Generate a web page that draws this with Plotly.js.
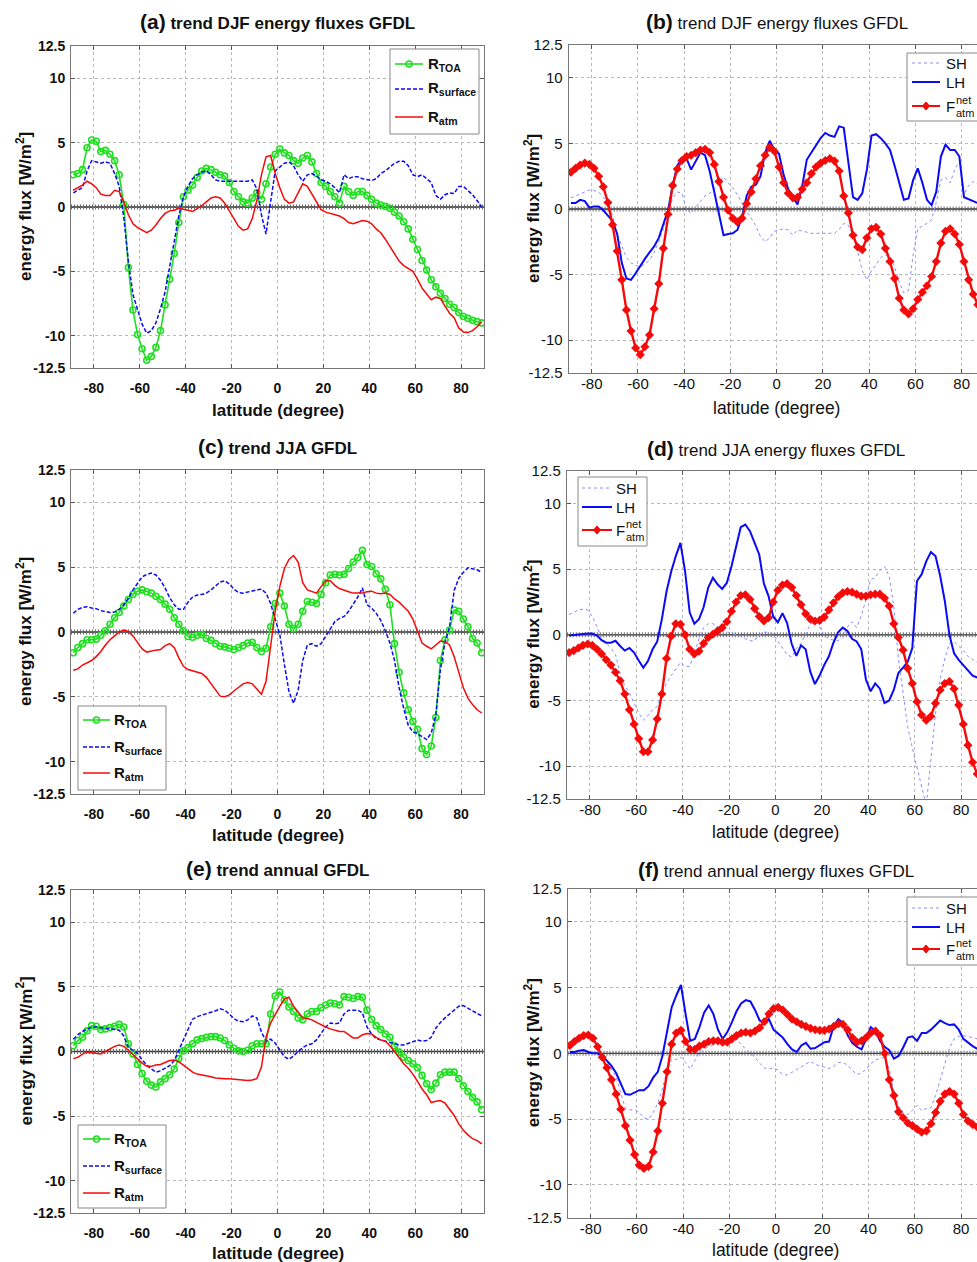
<!DOCTYPE html>
<html><head><meta charset="utf-8">
<script src="https://cdn.plot.ly/plotly-3.0.1.min.js"></script>
<style>html,body{margin:0;padding:0;background:#fff;overflow:hidden;width:977px;height:1262px}#chart{width:1000px;height:1262px}</style>
</head><body><div id="chart"></div>
<script>
const lat = [-89,-87,-85,-83,-81,-79,-77,-75,-73,-71,-69,-67,-65,-63,-61,-59,-57,-55,-53,-51,-49,-47,-45,-43,-41,-39,-37,-35,-33,-31,-29,-27,-25,-23,-21,-19,-17,-15,-13,-11,-9,-7,-5,-3,-1,1,3,5,7,9,11,13,15,17,19,21,23,25,27,29,31,33,35,37,39,41,43,45,47,49,51,53,55,57,59,61,63,65,67,69,71,73,75,77,79,81,83,85,87,89];
const xTicks = [-80,-60,-40,-20,0,20,40,60,80];
const xTickText = ['-80','-60','-40','-20','0','20','40','60','80'];
const yTicks = [-12.5,-10,-5,0,5,10,12.5];
const yTickText = ['-12.5','-10','-5','0','5','10','12.5'];

// (a) DJF radiative
const a_toa = [2.5,2.6,2.9,4.6,5.2,5.1,4.3,4.4,4.1,3.6,2.5,0.2,-4.7,-8.0,-9.9,-11.0,-11.9,-11.6,-10.9,-9.6,-7.6,-5.6,-3.6,-1.2,0.8,1.3,1.7,2.3,2.8,3.0,2.9,2.7,2.5,2.4,1.9,1.2,0.8,0.4,0.3,0.7,1.1,0.6,1.8,3.1,4.1,
 4.5,4.2,4.0,3.6,3.4,3.8,4.0,3.5,2.6,1.9,1.6,1.2,0.8,0.3,1.6,1.2,0.9,1.2,1.2,0.9,0.6,0.3,0.15,0.05,-0.1,-0.4,-0.7,-1.15,-1.7,-2.5,-3.3,-4.15,-4.9,-5.65,-6.2,-6.7,-7.1,-7.55,-7.8,-8.2,-8.5,-8.65,-8.8,-8.9,-9.0];
const a_surf = [1.1,1.3,1.5,2.8,3.6,3.5,3.4,3.5,3.4,2.6,1.6,-0.8,-4.2,-6.8,-8.0,-9.1,-9.8,-9.6,-9.0,-7.9,-6.6,-4.7,-2.6,-0.7,0.8,1.6,2.2,2.5,2.7,2.8,2.5,2.1,2.0,2.0,2.0,2.0,2.0,2.0,2.0,2.1,1.4,-0.6,-2.1,0.4,2.8,
 3.1,3.4,3.5,3.2,2.5,2.0,2.5,2.6,2.4,2.1,2.0,1.8,1.5,1.1,2.5,2.2,2.35,2.35,2.2,2.1,2.05,2.2,2.6,2.8,3.1,3.4,3.55,3.55,3.2,2.5,2.35,2.5,2.2,1.9,0.9,0.6,0.95,1.1,1.05,1.6,1.6,1.3,0.95,0.5,0.0];
const a_atm = [1.3,1.5,1.7,2.0,1.8,1.5,1.0,0.9,0.9,1.3,1.2,0.4,-0.6,-1.3,-1.6,-1.8,-2.0,-1.8,-1.4,-0.9,-0.5,-0.3,-0.25,-0.1,-0.15,-0.25,-0.35,-0.15,0.1,0.4,0.7,0.8,0.7,0.3,-0.3,-1.0,-1.5,-1.8,-1.7,-0.9,0.5,2.5,3.9,4.0,2.6,
 1.5,0.6,0.3,0.4,1.1,1.8,1.6,1.0,0.3,-0.2,-0.4,-0.5,-0.6,-0.7,-0.9,-1.2,-1.3,-1.2,-1.05,-1.1,-1.3,-1.7,-2.0,-2.5,-3.05,-3.6,-4.2,-4.55,-4.8,-5.0,-5.6,-6.3,-6.75,-7.2,-7.0,-7.1,-7.7,-8.25,-8.6,-9.4,-9.7,-9.75,-9.6,-9.3,-8.9];

// (b) DJF turbulent fluxes
const b_sh = [0.85,1.0,1.2,1.35,1.45,1.4,1.3,0.9,0.4,-0.5,-1.9,-2.8,-3.7,-4.1,-4.3,-4.4,-4.2,-3.9,-3.3,-2.5,-1.5,-0.3,0.8,1.3,1.2,-0.05,-0.3,0.15,0.6,1.0,1.2,1.5,1.95,2.45,2.0,1.6,1.1,0.4,-0.2,-0.7,-1.3,-2.1,-2.5,-2.2,-1.7,
 -1.6,-1.5,-1.6,-2.0,-1.6,-1.7,-1.8,-1.85,-1.85,-1.85,-1.85,-1.85,-1.85,-1.55,-1.1,-1.25,-2.0,-3.2,-4.7,-5.4,-4.7,-4.25,-3.7,-3.5,-3.6,-4.4,-5.6,-6.4,-6.2,-3.5,-1.5,-1.3,-1.1,-0.8,0.5,2.2,2.4,2.0,3.0,3.6,1.1,1.8,2.1,1.9,1.8];
const b_lh = [0.45,0.45,0.7,0.6,0.1,0.2,0.2,-0.1,-0.5,-0.9,-1.9,-4.1,-5.3,-5.4,-4.9,-4.3,-3.8,-3.3,-2.85,-2.2,-1.2,-0.1,1.8,3.3,3.85,3.85,3.0,3.7,4.3,4.1,2.9,1.3,-0.3,-2.0,-1.9,-1.85,-1.6,-0.6,1.0,1.7,1.85,2.5,4.3,5.2,4.5,
 4.2,2.6,1.5,0.9,0.35,1.7,3.75,4.3,4.9,5.4,5.8,5.6,5.5,6.3,6.2,3.4,0.9,0.7,1.2,3.0,5.6,5.7,5.4,5.0,4.5,3.3,1.9,0.7,0.8,2.2,3.1,2.0,0.7,0.3,1.3,4.0,4.9,4.5,4.5,4.0,0.9,0.75,0.55,0.4,0.3];
const b_fnet = [2.8,3.1,3.35,3.5,3.4,3.1,2.5,1.7,0.5,-1.2,-3.2,-5.4,-7.7,-9.3,-10.6,-11.1,-10.5,-9.6,-7.6,-5.7,-3.0,-0.4,1.8,3.05,3.7,4.0,4.1,4.3,4.5,4.55,4.3,3.4,2.1,0.9,-0.1,-0.7,-1.0,-0.7,0.4,1.3,2.3,3.3,4.1,4.7,4.4,
 3.2,2.0,1.2,0.85,0.9,1.5,2.0,2.7,3.2,3.5,3.7,3.85,3.65,2.9,1.0,-0.3,-2.0,-2.9,-3.1,-2.2,-1.5,-1.4,-1.9,-3.0,-4.0,-5.3,-6.8,-7.7,-8.0,-7.6,-6.9,-6.35,-5.85,-5.15,-4.0,-2.6,-1.7,-1.5,-1.9,-2.7,-4.0,-5.4,-6.5,-7.3,-7.8];

// (c) JJA radiative
const c_toa = [-1.6,-1.2,-0.9,-0.6,-0.6,-0.55,-0.25,0.1,0.6,1.1,1.5,2.0,2.5,2.9,3.15,3.25,3.1,3.0,2.75,2.5,2.15,1.75,1.1,0.6,0.1,-0.35,-0.4,-0.25,-0.2,-0.5,-0.65,-0.9,-1.1,-1.15,-1.25,-1.35,-1.2,-1.05,-0.85,-0.8,-1.2,-1.5,-1.25,0.4,2.2,
 3.0,2.0,0.6,0.25,0.6,1.6,2.35,2.3,2.2,2.9,3.8,4.4,4.45,4.4,4.45,4.9,5.4,5.75,6.3,5.2,5.05,4.5,4.1,3.3,2.1,-0.9,-3.1,-4.7,-6.0,-6.9,-7.5,-9.0,-9.45,-8.8,-6.6,-2.2,-0.6,0.15,1.7,1.6,1.0,0.4,-0.5,-0.85,-1.6];
const c_surf = [1.45,1.75,1.9,1.95,1.85,1.8,1.65,1.55,1.5,1.55,1.75,2.1,2.6,3.25,3.75,4.25,4.45,4.55,4.4,4.0,3.4,2.65,2.1,1.75,1.75,2.3,2.7,2.85,2.9,3.0,3.25,3.55,3.85,3.95,3.7,3.3,3.05,3.0,3.1,3.2,3.25,3.3,3.0,2.2,1.0,
 -0.2,-2.5,-4.6,-5.5,-4.5,-2.2,-1.0,-0.9,-1.1,-0.9,-0.3,0.2,0.8,1.05,1.2,1.6,2.1,2.7,3.4,2.1,1.85,1.45,0.9,0.1,-0.85,-2.2,-4.3,-5.9,-7.2,-7.7,-7.85,-8.1,-8.3,-7.8,-6.4,-2.9,-0.8,0.4,3.2,4.15,4.6,4.95,4.9,4.8,4.6];
const c_atm = [-2.95,-2.85,-2.55,-2.4,-2.2,-1.9,-1.5,-1.0,-0.6,-0.3,0.0,0.15,0.05,-0.3,-0.8,-1.3,-1.55,-1.45,-1.4,-1.35,-1.05,-0.9,-1.2,-2.0,-2.65,-2.9,-3.0,-3.05,-3.2,-3.5,-4.0,-4.5,-4.95,-5.0,-4.85,-4.55,-4.3,-4.0,-3.9,-4.0,-4.4,-4.8,-3.8,-1.15,1.6,
 3.5,4.9,5.6,5.9,5.4,3.8,3.25,3.1,3.0,3.5,3.95,3.95,3.6,3.35,3.2,3.1,3.0,3.0,3.0,3.1,3.15,3.0,2.95,3.0,2.9,2.55,2.3,1.95,1.6,1.0,0.05,-0.85,-1.1,-1.3,-1.0,-0.7,-0.75,-1.0,-1.9,-3.2,-4.3,-5.1,-5.6,-6.0,-6.25];

// (d) JJA turbulent fluxes
const d_sh = [1.55,1.7,1.9,1.95,1.9,1.4,0.6,-0.2,-0.65,-1.0,-1.5,-2.9,-3.9,-4.4,-5.2,-5.95,-6.5,-6.15,-5.7,-5.45,-4.5,-3.7,-3.1,-2.6,-2.1,-2.4,-2.4,-1.4,-0.3,0.55,0.85,0.85,0.65,0.35,0.25,0.15,0.05,-0.1,-0.3,-0.45,-0.45,0.0,0.2,0.2,0.05,
 -0.45,-0.95,-1.5,-1.7,-1.05,-0.65,0.05,0.8,1.05,0.6,-0.05,-0.3,-0.4,-0.45,-0.15,0.6,1.0,0.55,1.45,2.7,4.2,4.35,4.9,5.2,4.5,2.2,-1.8,-4.6,-7.0,-8.6,-10.1,-11.5,-13.0,-9.5,-6.0,-3.4,-1.8,-0.65,-0.5,-0.85,-1.2,-1.65,-1.9,-2.1,-2.2];
const d_lh = [-0.05,0.0,0.05,0.1,0.1,0.1,-0.05,-0.4,-0.6,-0.6,-0.45,-0.85,-1.2,-1.0,-1.35,-1.95,-2.5,-2.0,-1.1,-0.5,1.2,3.3,4.8,6.0,7.0,4.85,1.7,0.85,1.2,2.1,3.6,4.35,3.85,3.5,3.95,5.2,6.6,8.2,8.4,7.9,7.0,6.1,3.9,2.95,1.4,
 0.95,1.65,0.9,-0.7,-1.6,-0.8,-1.1,-2.8,-3.75,-3.1,-2.3,-1.65,-0.6,0.2,0.55,0.3,-0.3,-0.5,-1.1,-3.4,-4.3,-3.7,-4.1,-5.2,-5.0,-4.2,-2.9,-2.5,-2.05,-1.0,4.1,4.6,5.6,6.3,6.0,4.5,2.6,0.0,-1.4,-1.9,-2.3,-2.7,-3.1,-3.25,-3.3];
const d_fnet = [-1.35,-1.2,-1.0,-0.8,-0.7,-0.8,-1.1,-1.45,-1.9,-2.3,-2.85,-3.5,-4.5,-5.7,-6.8,-7.9,-8.9,-8.9,-8.0,-6.4,-4.5,-1.8,-0.1,0.85,0.8,0.0,-1.1,-1.45,-1.25,-0.65,-0.2,0.05,0.3,0.55,1.0,1.8,2.5,3.0,3.05,2.7,2.0,1.4,1.05,1.3,2.5,
 3.4,3.8,3.9,3.6,3.0,2.3,1.6,1.2,1.05,1.1,1.35,1.9,2.45,2.9,3.2,3.3,3.25,3.1,2.95,2.95,3.05,3.1,3.1,2.8,2.2,0.85,-0.2,-1.15,-2.55,-3.7,-5.1,-6.1,-6.5,-6.2,-5.2,-4.2,-3.7,-3.55,-4.1,-5.35,-6.8,-8.4,-9.7,-10.6,-11.3];

// (e) annual radiative
const e_toa = [0.45,0.85,1.1,1.6,2.0,1.95,1.7,1.75,1.85,1.95,2.1,1.9,0.6,-0.2,-1.0,-1.7,-2.3,-2.6,-2.75,-2.35,-2.1,-1.8,-1.35,-0.55,0.05,0.3,0.6,0.9,1.0,1.1,1.15,1.15,1.05,0.85,0.5,0.25,0.05,0.0,0.1,0.45,0.6,0.6,0.6,2.9,4.3,
 4.6,4.0,3.45,3.1,2.6,2.45,2.9,3.1,3.1,3.4,3.6,3.75,3.7,3.6,4.25,4.2,4.1,4.25,4.2,3.2,2.5,2.0,1.7,1.35,1.1,0.45,-0.05,-0.45,-0.7,-0.95,-1.25,-1.85,-2.5,-2.95,-2.45,-1.8,-1.6,-1.6,-1.6,-2.1,-2.65,-3.1,-3.55,-3.9,-4.5];
const e_surf = [0.95,1.3,1.55,1.75,1.9,1.9,1.85,1.8,1.8,1.75,1.65,1.2,0.3,0.1,-0.15,-0.65,-1.05,-1.35,-1.6,-1.5,-1.3,-1.1,-0.7,0.1,0.95,1.8,2.5,2.7,2.8,2.9,3.0,3.15,3.3,3.2,2.9,2.55,2.35,2.3,2.45,2.75,2.6,1.5,0.8,0.95,0.65,
 0.1,-0.4,-0.6,-0.35,0.0,0.3,0.5,0.6,0.9,1.4,1.9,2.2,2.15,2.2,2.9,3.2,3.2,3.2,3.0,1.9,1.35,1.0,0.9,0.8,0.65,0.55,0.5,0.5,0.6,0.75,0.9,0.8,0.85,1.1,1.8,2.25,2.6,2.9,3.2,3.5,3.55,3.35,3.2,2.95,2.75];
const e_atm = [-0.55,-0.45,-0.2,-0.05,-0.1,-0.15,-0.2,0.0,0.2,0.4,0.5,0.4,0.1,-0.25,-0.6,-0.9,-1.15,-1.15,-1.05,-1.0,-0.85,-0.7,-0.65,-0.8,-1.05,-1.35,-1.6,-1.75,-1.8,-1.85,-1.95,-2.05,-2.1,-2.1,-2.1,-2.15,-2.2,-2.25,-2.25,-2.2,-2.1,-1.2,1.1,2.2,2.9,
 3.5,4.05,4.2,3.5,3.0,2.6,2.55,2.45,2.25,2.05,1.9,1.75,1.65,1.55,1.55,1.3,1.05,1.05,1.3,1.4,1.35,1.1,0.9,0.8,0.45,0.0,-0.5,-0.95,-1.3,-1.75,-2.3,-2.9,-3.35,-3.95,-3.85,-3.8,-4.0,-4.45,-4.95,-5.6,-6.1,-6.45,-6.75,-6.9,-7.15];

// (f) annual turbulent fluxes
const f_sh = [0.1,0.15,0.2,0.15,0.1,0.1,0.05,-0.2,-0.6,-1.2,-1.8,-3.0,-4.2,-4.3,-4.3,-4.5,-4.9,-5.0,-4.5,-3.8,-2.7,-1.3,-0.45,-0.45,-0.3,-0.7,-1.2,-0.55,0.05,0.35,0.5,0.7,0.85,1.0,1.1,1.1,1.0,0.7,0.3,0.0,-0.3,-0.75,-1.1,-1.2,-1.1,
 -1.3,-1.6,-1.65,-1.45,-1.2,-1.05,-0.85,-0.6,-0.85,-0.95,-1.05,-1.15,-1.0,-0.7,-0.7,-0.9,-1.3,-1.6,-1.5,-1.2,-0.8,-0.5,-0.4,-0.3,-1.2,-2.9,-4.0,-4.55,-4.65,-4.35,-3.95,-4.35,-4.2,-4.15,-3.2,-2.0,-0.6,0.4,1.1,1.3,1.35,1.3,1.2,1.1,1.05];
const f_lh = [0.1,0.1,0.2,0.25,0.1,0.0,0.0,-0.2,-0.55,-0.95,-1.5,-2.3,-3.1,-3.15,-2.95,-2.8,-2.8,-2.5,-1.85,-1.4,-0.2,1.7,3.5,4.4,5.2,3.0,0.95,1.1,2.0,3.1,3.65,3.0,1.8,1.1,1.6,2.35,3.2,3.8,4.05,3.95,3.3,2.5,2.3,2.6,1.8,
 1.5,1.2,0.7,0.3,0.1,0.6,0.8,0.35,0.4,0.6,0.85,0.9,2.1,2.6,2.3,1.4,0.8,0.5,0.3,1.1,2.0,1.7,0.95,0.5,0.25,-0.4,-0.2,0.45,1.2,1.3,0.95,1.55,1.55,1.8,2.15,2.5,2.3,2.15,2.2,1.8,1.1,0.8,0.55,0.35,0.25];
const f_fnet = [0.6,0.9,1.15,1.35,1.4,1.15,0.5,-0.3,-1.1,-2.0,-3.1,-4.25,-5.5,-6.6,-7.7,-8.5,-8.75,-8.6,-7.5,-5.9,-3.8,-1.4,0.7,1.55,1.75,0.9,0.3,0.3,0.55,0.7,0.9,0.95,0.95,0.85,0.85,1.1,1.35,1.55,1.6,1.55,1.7,1.95,2.4,3.0,3.4,
 3.5,3.3,2.95,2.6,2.4,2.2,2.05,1.9,1.8,1.75,1.75,1.85,2.05,2.25,2.2,1.8,1.2,0.85,0.95,1.2,1.55,1.7,1.35,0.0,-2.0,-3.2,-4.45,-4.9,-5.3,-5.5,-5.75,-6.0,-5.9,-5.35,-4.5,-3.65,-3.1,-2.9,-3.1,-3.8,-4.65,-5.15,-5.4,-5.6,-5.7];

const FONT = 'Liberation Sans, Arial, Helvetica, sans-serif';
const GREEN = '#1fe01f', BLUE = '#0a0af5', RED = '#f50a0a', SHC = '#8a8aff';
const W = 1000, H = 1262;
const px = v => v / W, py = v => 1 - v / H;

const panels = [
 {ax:'', xd:[71,484], yd:[46,368], bold:true, kind:'R', data:[a_toa,a_surf,a_atm], tag:'(a)', title:'trend DJF energy fluxes GFDL', titleY:22, xtY:410, ytX:24,
  leg:{box:[390,49,479,134], rows:[64,89,117], sx:[395,423], tx:426}},
 {ax:'2', xd:[568.6,984.8], yd:[45,373], bold:false, kind:'F', data:[b_sh,b_lh,b_fnet], tag:'(b)', title:'trend DJF energy fluxes GFDL', titleY:22, xtY:408, ytX:532,
  leg:{box:[907,53,990,121], rows:[63,82,106], sx:[912,940], tx:944}},
 {ax:'3', xd:[71,484], yd:[470,794], bold:true, kind:'R', data:[c_toa,c_surf,c_atm], tag:'(c)', title:'trend JJA GFDL', titleY:447, xtY:835, ytX:24,
  leg:{box:[78,706,166,790], rows:[720,747,773], sx:[83,110], tx:112}},
 {ax:'4', xd:[566.8,984.2], yd:[470.7,799], bold:false, kind:'F', data:[d_sh,d_lh,d_fnet], tag:'(d)', title:'trend JJA energy fluxes GFDL', titleY:448, xtY:832, ytX:532,
  leg:{box:[578,477,647,546], rows:[488,507,530], sx:[582,612], tx:614}},
 {ax:'5', xd:[71,484], yd:[890,1213], bold:true, kind:'R', data:[e_toa,e_surf,e_atm], tag:'(e)', title:'trend annual GFDL', titleY:868, xtY:1253, ytX:24,
  leg:{box:[78,1125,166,1208], rows:[1139,1166,1193], sx:[83,110], tx:112}},
 {ax:'6', xd:[567.5,984.2], yd:[889,1217.7], bold:false, kind:'F', data:[f_sh,f_lh,f_fnet], tag:'(f)', title:'trend annual energy fluxes GFDL', titleY:870, xtY:1250, ytX:532,
  leg:{box:[907,897,990,965], rows:[908,927,949], sx:[912,940], tx:944}}
];

const traces = [], shapes = [], annotations = [];
const layout = {width:W, height:H, margin:{l:0,r:0,t:0,b:0}, paper_bgcolor:'#fff', plot_bgcolor:'#fff', showlegend:false, font:{family:FONT, color:'#111'}};

function styleR(i){
  if(i===0) return {mode:'lines+markers', line:{color:GREEN,width:1.6}, marker:{symbol:'circle-open',size:6,color:GREEN,line:{width:1.6,color:GREEN}}};
  if(i===1) return {mode:'lines', line:{color:BLUE,width:1.5,dash:'4px,2px'}};
  return {mode:'lines', line:{color:RED,width:1.5}};
}
function styleF(i){
  if(i===0) return {mode:'lines', line:{color:SHC,width:1,dash:'dot'}};
  if(i===1) return {mode:'lines', line:{color:BLUE,width:2}};
  return {mode:'lines+markers', line:{color:RED,width:2.4}, marker:{symbol:'diamond',size:7,color:RED}};
}

panels.forEach(p => {
  const xa = 'x'+p.ax, ya = 'y'+p.ax;
  const tickFont = p.bold ? {family:FONT,size:14,weight:'bold',color:'#111'} : {family:FONT,size:15,color:'#111'};
  const common = {ticks:'inside', ticklen:4, tickcolor:'#555', mirror:'ticks', showline:true, linecolor:'#777', linewidth:1,
    showgrid:true, gridcolor:'#b8b8b8', griddash:'dot', gridwidth:1, zeroline:false, fixedrange:true, tickfont:tickFont};
  layout['xaxis'+p.ax] = Object.assign({}, common, {domain:[px(p.xd[0]),px(p.xd[1])], range:[-90,90], anchor:ya, tickmode:'array', tickvals:xTicks, ticktext:xTickText, ticklabelstandoff: p.bold?7:-3});
  layout['yaxis'+p.ax] = Object.assign({}, common, {domain:[py(p.yd[1]),py(p.yd[0])], range:[-12.5,12.5], anchor:xa, tickmode:'array', tickvals:yTicks, ticktext:yTickText, ticklabelstandoff:2});

  // zero reference line (dotted with + marks)
  shapes.push({type:'line', xref:xa, yref:ya, x0:-90, x1:90, y0:0, y1:0, layer:'between', line:{color:'#333',width:1.3}});
  shapes.push({type:'line', xref:xa, yref:ya, x0:-90, x1:90, y0:0, y1:0, layer:'between', line:{color:'#666',width:5,dash:'1px,2px'}});

  p.data.forEach((ys, i) => {
    const st = p.kind==='R' ? styleR(i) : styleF(i);
    traces.push(Object.assign({type:'scatter', x:lat, y:ys, xaxis:xa, yaxis:ya, hoverinfo:'skip', cliponaxis:true}, st));
  });

  // titles
  const midX = (p.xd[0]+p.xd[1])/2, midY = (p.yd[0]+p.yd[1])/2;
  const ttext = p.bold ? `<b><span style="font-size:21px">${p.tag}</span> ${p.title}</b>` : `<span style="font-size:21px"><b>${p.tag}</b></span> ${p.title}`;
  annotations.push({xref:'paper', yref:'paper', x:px(midX), y:py(p.titleY), xanchor:'center', yanchor:'middle', showarrow:false, text:ttext, font:{family:FONT,size:17,color:'#111'}});
  annotations.push({xref:'paper', yref:'paper', x:px(midX), y:py(p.xtY), xanchor:'center', yanchor:'middle', showarrow:false,
    text: p.bold ? '<b>latitude (degree)</b>' : 'latitude (degree)', font:{family:FONT,size:p.bold?17:17.5,color:'#111'}});
  annotations.push({xref:'paper', yref:'paper', x:px(p.ytX), y:py(midY), xanchor:'center', yanchor:'middle', showarrow:false, textangle:-90,
    text:'<b>energy flux [W/m<sup>2</sup>]</b>', font:{family:FONT,size:17,color:'#111'}});

  // legend
  const L = p.leg;
  shapes.push({type:'rect', xref:'paper', yref:'paper', x0:px(L.box[0]), x1:px(L.box[2]), y0:py(L.box[3]), y1:py(L.box[1]), layer:'above', fillcolor:'#fff', line:{color:'#888',width:1}});
  const cx = (L.sx[0]+L.sx[1])/2;
  L.rows.forEach((ry, i) => {
    const st = p.kind==='R' ? styleR(i) : styleF(i);
    shapes.push({type:'line', xref:'paper', yref:'paper', x0:px(L.sx[0]), x1:px(L.sx[1]), y0:py(ry), y1:py(ry), layer:'above', line:{color:st.line.color, width:Math.min(st.line.width,2), dash:st.line.dash||'solid'}});
    if(p.kind==='R' && i===0){
      shapes.push({type:'circle', xref:'paper', yref:'paper', x0:px(cx-3), x1:px(cx+3), y0:py(ry+3), y1:py(ry-3), layer:'above', line:{color:GREEN,width:1.5}, fillcolor:'rgba(0,0,0,0)'});
    }
    if(p.kind==='F' && i===2){
      shapes.push({type:'path', xref:'paper', yref:'paper', layer:'above', fillcolor:RED, line:{color:RED,width:1},
        path:`M ${px(cx)},${py(ry-4)} L ${px(cx+3.5)},${py(ry)} L ${px(cx)},${py(ry+4)} L ${px(cx-3.5)},${py(ry)} Z`});
    }
  });
  if(p.kind==='R'){
    const names = ['R<sub>TOA</sub>','R<sub>surface</sub>','R<sub>atm</sub>'];
    L.rows.forEach((ry,i) => annotations.push({xref:'paper', yref:'paper', x:px(L.tx), y:py(ry), xanchor:'left', yanchor:'middle', showarrow:false,
      text:'<b>'+names[i]+'</b>', font:{family:FONT,size:15,color:'#111'}}));
  } else {
    annotations.push({xref:'paper', yref:'paper', x:px(L.tx), y:py(L.rows[0]), xanchor:'left', yanchor:'middle', showarrow:false, text:'SH', font:{family:FONT,size:15,color:'#111'}});
    annotations.push({xref:'paper', yref:'paper', x:px(L.tx), y:py(L.rows[1]), xanchor:'left', yanchor:'middle', showarrow:false, text:'LH', font:{family:FONT,size:15,color:'#111'}});
    annotations.push({xref:'paper', yref:'paper', x:px(L.tx), y:py(L.rows[2]), xanchor:'left', yanchor:'middle', showarrow:false, text:'F', font:{family:FONT,size:15,color:'#111'}});
    annotations.push({xref:'paper', yref:'paper', x:px(L.tx+10), y:py(L.rows[2]-6), xanchor:'left', yanchor:'middle', showarrow:false, text:'net', font:{family:FONT,size:11,color:'#111'}});
    annotations.push({xref:'paper', yref:'paper', x:px(L.tx+10), y:py(L.rows[2]+7), xanchor:'left', yanchor:'middle', showarrow:false, text:'atm', font:{family:FONT,size:11,color:'#111'}});
  }
});

layout.shapes = shapes;
layout.annotations = annotations;
Plotly.newPlot('chart', traces, layout, {staticPlot:true, displayModeBar:false});
</script></body></html>
